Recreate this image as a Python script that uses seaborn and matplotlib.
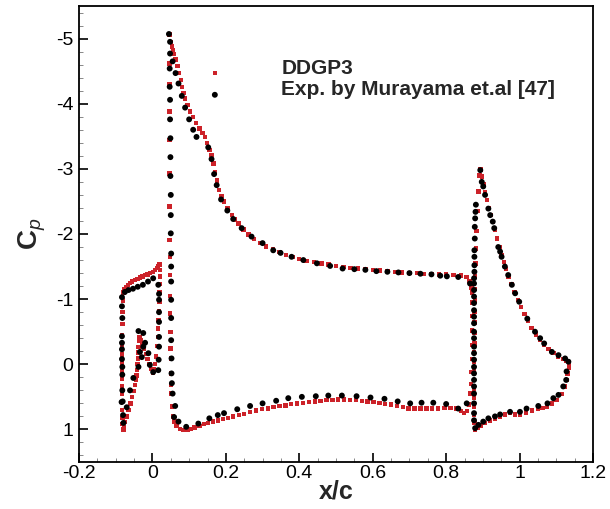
import matplotlib
matplotlib.use("Agg")
import matplotlib.pyplot as plt
import matplotlib.ticker as mticker
import numpy as np
import pandas as pd
import seaborn as sns

# ---------------- surface pressure data ----------------
# DDGP3 computation: slat, main element, flap
slat_cfd_x = [-0.079, -0.081, -0.082, -0.083, -0.083, -0.083, -0.083, -0.083, -0.083, -0.083,
              -0.083, -0.083, -0.083, -0.082, -0.081, -0.080,
              -0.079, -0.076, -0.072, -0.067, -0.061, -0.055, -0.048, -0.041, -0.034, -0.027,
              -0.020, -0.013, -0.006, 0.001, 0.007, 0.012, 0.016, 0.019,
              0.020, 0.020, 0.020, 0.019, 0.019, 0.018, 0.017, 0.016, 0.015, 0.013, 0.010, 0.007,
              0.004, 0.002,
              -0.003, -0.008, -0.013, -0.018, -0.023, -0.028, -0.032, -0.035,
              -0.037, -0.038, -0.039, -0.040, -0.041, -0.042, -0.043, -0.044,
              -0.047, -0.051, -0.055, -0.060, -0.065, -0.070, -0.074, -0.077]
slat_cfd_cp = [1.00, 0.92, 0.82, 0.70, 0.58, 0.46, 0.34, 0.22, 0.10, -0.02,
               -0.15, -0.30, -0.45, -0.62, -0.80, -0.98,
               -1.10, -1.15, -1.19, -1.22, -1.25, -1.27, -1.29, -1.31, -1.33, -1.35,
               -1.37, -1.38, -1.40, -1.42, -1.45, -1.48, -1.51, -1.53,
               -1.45, -1.35, -1.23, -1.10, -0.96, -0.82, -0.68, -0.55, -0.42, -0.28, -0.12, 0.00,
               0.08, 0.13,
               0.07, 0.00, -0.08, -0.16, -0.24, -0.31, -0.37, -0.42,
               -0.36, -0.27, -0.18, -0.09, 0.00, 0.09, 0.17, 0.24,
               0.32, 0.41, 0.50, 0.60, 0.70, 0.80, 0.89, 0.96]

main_cfd_x = [0.056, 0.053, 0.052, 0.051, 0.050, 0.050, 0.049, 0.049, 0.048, 0.048,
              0.048, 0.048, 0.047, 0.047, 0.047, 0.047, 0.046, 0.046, 0.046,
              0.046, 0.049, 0.053, 0.056, 0.059, 0.063, 0.068, 0.073, 0.077, 0.080,
              0.085, 0.089, 0.095, 0.102, 0.110, 0.119, 0.128, 0.136, 0.143, 0.149,
              0.155, 0.161, 0.166, 0.171, 0.176, 0.182, 0.188, 0.195, 0.205, 0.216,
              0.225, 0.234, 0.248, 0.262, 0.277, 0.293, 0.310, 0.328, 0.346, 0.364,
              0.382, 0.400, 0.420, 0.440, 0.460, 0.480, 0.500, 0.520, 0.540, 0.560,
              0.580, 0.600, 0.620, 0.640, 0.660, 0.680, 0.700, 0.720, 0.740, 0.760,
              0.780, 0.800, 0.820, 0.840, 0.855, 0.864, 0.869,
              0.060, 0.066, 0.075, 0.085, 0.095, 0.105, 0.115, 0.128, 0.140, 0.152,
              0.165, 0.178, 0.192, 0.206, 0.220, 0.235, 0.250, 0.266, 0.282, 0.298,
              0.314, 0.330, 0.346, 0.362, 0.378, 0.394, 0.410, 0.426, 0.442, 0.458,
              0.474, 0.490, 0.506, 0.522, 0.538, 0.554, 0.570, 0.586, 0.602, 0.618,
              0.634, 0.650, 0.666, 0.682, 0.698, 0.714, 0.730, 0.746, 0.762, 0.778,
              0.795, 0.812, 0.828, 0.840, 0.848, 0.856, 0.862,
              0.866, 0.868, 0.869, 0.870, 0.871, 0.871, 0.872, 0.872, 0.871]
main_cfd_cp = [0.80, 0.65, 0.45, 0.32, 0.14, -0.09, -0.24, -0.50, -0.78, -1.05,
               -1.37, -1.65, -1.91, -2.42, -2.93, -3.44, -3.88, -4.30, -4.62,
               -5.06, -4.95, -4.88, -4.82, -4.76, -4.68, -4.58, -4.47, -4.36, -4.26,
               -4.16, -4.08, -3.98, -3.88, -3.80, -3.70, -3.62, -3.55, -3.49, -3.40,
               -3.29, -3.21, -3.08, -2.95, -2.82, -2.68, -2.58, -2.50, -2.39, -2.29,
               -2.22, -2.16, -2.07, -1.99, -1.92, -1.86, -1.81, -1.76, -1.72, -1.68,
               -1.65, -1.62, -1.59, -1.57, -1.55, -1.53, -1.51, -1.49, -1.48, -1.47,
               -1.46, -1.45, -1.44, -1.43, -1.42, -1.41, -1.40, -1.40, -1.39, -1.39,
               -1.38, -1.38, -1.37, -1.36, -1.34, -1.28, -1.18,
               0.88, 0.95, 0.99, 1.01, 1.01, 0.99, 0.97, 0.95, 0.92, 0.90,
               0.88, 0.86, 0.84, 0.82, 0.80, 0.78, 0.76, 0.73, 0.71, 0.69,
               0.68, 0.66, 0.64, 0.63, 0.61, 0.60, 0.59, 0.58, 0.57, 0.56,
               0.55, 0.55, 0.54, 0.54, 0.55, 0.55, 0.56, 0.57, 0.58, 0.59,
               0.61, 0.62, 0.64, 0.66, 0.68, 0.68, 0.68, 0.68, 0.68, 0.68,
               0.67, 0.67, 0.68, 0.72, 0.75, 0.72, 0.62,
               0.45, 0.30, 0.12, -0.08, -0.30, -0.52, -0.74, -0.95, -1.10]

flap_cfd_x = [0.879, 0.877, 0.876, 0.876, 0.876, 0.876, 0.876, 0.876, 0.876, 0.876,
              0.877, 0.877, 0.877, 0.877, 0.878, 0.878, 0.879, 0.880, 0.881, 0.883,
              0.885, 0.888, 0.891, 0.894,
              0.898, 0.902, 0.906, 0.911, 0.916, 0.921, 0.927, 0.933, 0.939, 0.945,
              0.951, 0.957, 0.963, 0.970, 0.978, 0.986, 0.995, 1.004, 1.013, 1.023,
              1.033, 1.044, 1.055, 1.067, 1.079, 1.092, 1.105, 1.118, 1.128, 1.134,
              1.134, 1.131, 1.128, 1.123, 1.115, 1.101, 1.088, 1.074, 1.062, 1.051,
              1.034, 1.017, 1.001, 0.988, 0.974, 0.960, 0.947, 0.933, 0.920, 0.906,
              0.895, 0.886]
flap_cfd_cp = [1.00, 0.90, 0.78, 0.65, 0.52, 0.38, 0.24, 0.10, -0.04, -0.18,
               -0.32, -0.48, -0.64, -0.80, -0.98, -1.16, -1.35, -1.55, -1.78, -2.05,
               -2.35, -2.65, -2.90, -2.99,
               -2.88, -2.76, -2.64, -2.52, -2.40, -2.29, -2.18, -2.06, -1.93, -1.80,
               -1.68, -1.57, -1.46, -1.35, -1.23, -1.11, -0.99, -0.88, -0.77, -0.66,
               -0.56, -0.46, -0.38, -0.30, -0.23, -0.17, -0.12, -0.08, -0.05, -0.02,
               0.05, 0.14, 0.24, 0.34, 0.46, 0.55, 0.60, 0.65, 0.67, 0.68,
               0.71, 0.74, 0.78, 0.77, 0.75, 0.77, 0.80, 0.83, 0.86, 0.90,
               0.94, 0.98]

# Experiment (Murayama et al.)
slat_exp_x = [-0.083, -0.083, -0.082, -0.083, -0.083, -0.083, -0.083, -0.082, -0.082,
              -0.082, -0.081, -0.080, -0.079,
              -0.075, -0.065, -0.053, -0.040, -0.026, -0.012, 0.002,
              0.016, 0.018, 0.018, 0.018, 0.018, 0.018, 0.018, 0.017, 0.016,
              0.002, -0.007, -0.011, -0.029, -0.034, -0.025, -0.020, -0.025, -0.038,
              -0.038, -0.052, -0.061, -0.070, -0.084]
slat_exp_cp = [-1.03, -0.89, -0.71, -0.43, -0.33, -0.23, -0.08, 0.04, 0.16,
               0.40, 0.57, 0.78, 0.90,
               -1.11, -1.14, -1.16, -1.19, -1.22, -1.27, -1.32,
               -1.22, -1.08, -0.99, -0.80, -0.65, -0.42, -0.27, -0.07, 0.09,
               0.12, 0.01, -0.17, -0.11, -0.19, -0.27, -0.33, -0.48, -0.51,
               0.04, 0.21, 0.40, 0.66, 0.58]

main_exp_x = [0.045, 0.048, 0.048, 0.047, 0.047, 0.048, 0.048, 0.049, 0.049, 0.049,
              0.050, 0.050, 0.050, 0.051, 0.051, 0.051, 0.051, 0.051, 0.051, 0.052,
              0.052, 0.053, 0.055, 0.062,
              0.055, 0.063, 0.071, 0.080, 0.089, 0.100, 0.111, 0.120, 0.152, 0.161,
              0.168, 0.175, 0.187, 0.204, 0.220, 0.243, 0.270, 0.300, 0.329, 0.349,
              0.379, 0.411, 0.448, 0.484, 0.518, 0.550, 0.580, 0.610, 0.640, 0.670,
              0.700, 0.730, 0.760, 0.784, 0.802, 0.833, 0.865,
              0.059, 0.071, 0.092, 0.125, 0.155, 0.178, 0.195, 0.231, 0.266, 0.300,
              0.337, 0.370, 0.407, 0.445, 0.479, 0.516, 0.556, 0.594, 0.632, 0.668,
              0.702, 0.733, 0.765, 0.800, 0.833, 0.856]
main_exp_cp = [-5.07, -4.95, -4.77, -4.54, -4.26, -4.06, -3.76, -3.47, -3.18, -2.89,
               -2.60, -2.29, -2.01, -1.70, -1.50, -1.27, -0.99, -0.71, -0.37, -0.09,
               0.14, 0.29, 0.45, 0.64,
               -4.65, -4.47, -4.31, -4.12, -3.94, -3.76, -3.60, -3.49, -3.33, -3.15,
               -2.92, -2.75, -2.53, -2.36, -2.23, -2.09, -1.96, -1.86, -1.75, -1.71,
               -1.65, -1.60, -1.55, -1.51, -1.47, -1.46, -1.45, -1.43, -1.42, -1.41,
               -1.40, -1.39, -1.38, -1.36, -1.35, -1.34, -1.24,
               0.81, 0.88, 0.96, 0.91, 0.83, 0.78, 0.75, 0.69, 0.64, 0.60,
               0.56, 0.52, 0.50, 0.49, 0.48, 0.48, 0.49, 0.51, 0.53, 0.57,
               0.60, 0.59, 0.59, 0.61, 0.68, 0.60]

flap_exp_x = [0.876, 0.876, 0.876, 0.876, 0.876, 0.876, 0.876, 0.876, 0.876, 0.876,
              0.876, 0.876, 0.876, 0.876, 0.876, 0.876, 0.876, 0.876, 0.876, 0.876,
              0.876, 0.877, 0.877, 0.877, 0.877, 0.878, 0.878, 0.879, 0.880, 0.881,
              0.893, 0.897, 0.901, 0.906, 0.915, 0.920, 0.927, 0.931, 0.942, 0.947,
              0.951, 0.960, 0.969, 0.979, 0.988, 0.999, 1.021, 1.042, 1.056, 1.067,
              1.088, 1.106, 1.124, 1.133,
              1.128, 1.127, 1.119, 1.106, 1.092, 1.076, 1.051, 1.019, 1.001, 0.974,
              0.947, 0.933, 0.915, 0.901, 0.888, 0.879]
flap_exp_cp = [0.86, 0.75, 0.60, 0.45, 0.34, 0.24, 0.14, 0.04, -0.07, -0.17,
               -0.27, -0.40, -0.50, -0.63, -0.73, -0.83, -0.94, -1.04, -1.14, -1.24,
               -1.32, -1.42, -1.52, -1.65, -1.75, -1.93, -2.11, -2.24, -2.34, -2.45,
               -2.98, -2.80, -2.73, -2.60, -2.39, -2.29, -2.19, -2.09, -1.80, -1.73,
               -1.65, -1.50, -1.37, -1.22, -1.09, -0.96, -0.70, -0.50, -0.40, -0.32,
               -0.19, -0.14, -0.09, -0.04,
               0.11, 0.24, 0.34, 0.47, 0.52, 0.60, 0.64, 0.68, 0.73, 0.73,
               0.77, 0.80, 0.83, 0.88, 0.93, 0.98]

cfd_label = "DDGP3"
exp_label = "Exp. by Murayama et.al [47]"

cfd = pd.DataFrame({"x": slat_cfd_x + main_cfd_x + flap_cfd_x,
                    "cp": slat_cfd_cp + main_cfd_cp + flap_cfd_cp})
exp = pd.DataFrame({"x": slat_exp_x + main_exp_x + flap_exp_x,
                    "cp": slat_exp_cp + main_exp_cp + flap_exp_cp})

# ---------------- styling ----------------
sns.set_theme(style="white")
plt.rcParams["font.family"] = ["Liberation Sans", "DejaVu Sans"]
plt.rcParams["axes.unicode_minus"] = False
plt.rcParams["mathtext.fontset"] = "custom"
plt.rcParams["mathtext.rm"] = "Liberation Sans"
plt.rcParams["mathtext.bf"] = "Liberation Sans:bold"
plt.rcParams["mathtext.it"] = "Liberation Sans:italic"

fig = plt.figure(figsize=(6.10, 5.09), dpi=100)
ax = fig.add_axes([79 / 610, 1 - 462 / 509, 514 / 610, 456 / 509])

red = "#cc2229"
sns.scatterplot(data=cfd, x="x", y="cp", ax=ax, marker="s", s=10, color=red,
                edgecolor="none", linewidth=0, label=cfd_label, zorder=2)
sns.scatterplot(data=exp, x="x", y="cp", ax=ax, marker="o", s=18, color="black",
                edgecolor="none", linewidth=0, label=exp_label, zorder=3)

ax.set_xlim(-0.2, 1.2)
ax.set_ylim(1.5, -5.5)

ax.xaxis.set_major_locator(mticker.MultipleLocator(0.2))
ax.xaxis.set_minor_locator(mticker.MultipleLocator(0.05))
ax.yaxis.set_major_locator(mticker.MultipleLocator(1))
ax.yaxis.set_minor_locator(mticker.MultipleLocator(0.2))
fmt = mticker.FuncFormatter(lambda v, p: f"{v:g}" if abs(v) > 1e-9 else "0")
ax.xaxis.set_major_formatter(fmt)
ax.yaxis.set_major_formatter(fmt)

ax.tick_params(which="major", direction="in", length=6.5, width=1.2, colors="black",
               labelsize=14, top=False, right=False, bottom=True, left=True)
ax.tick_params(which="minor", direction="in", length=3.2, width=0.7, color="#888888",
               top=False, right=False, bottom=True, left=True)
ax.tick_params(axis="y", which="major", pad=4)
ax.tick_params(axis="x", which="major", pad=2.5)

for sp in ax.spines.values():
    sp.set_linewidth(1.3)
    sp.set_color("black")

ax.set_xlabel("x/c", fontsize=18, fontweight="bold", labelpad=-2)
ax.set_ylabel(r"$\mathbf{C}_{\mathit{p}}$", fontsize=20, labelpad=6)

leg = ax.legend(loc="upper left", bbox_to_anchor=(0.244, 0.884), frameon=False,
                handlelength=1.0, handletextpad=2.7, labelspacing=0.12,
                prop={"family": "Liberation Sans", "weight": "bold", "size": 15},
                borderaxespad=0, borderpad=0)
# legend symbols sit a little below the middle of their text line
for h in leg.legend_handles:
    h.set_offsets(np.asarray(h.get_offsets()) + np.array([0.0, -3.5]))

fig.savefig("out.png", dpi=100)
